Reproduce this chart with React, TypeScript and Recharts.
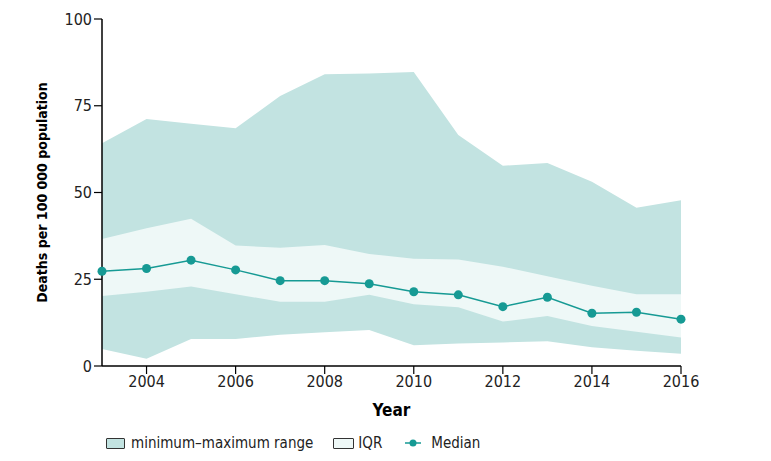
import { Area, ComposedChart, Line, XAxis, YAxis } from 'recharts';

const years = [2003, 2004, 2005, 2006, 2007, 2008, 2009, 2010, 2011, 2012, 2013, 2014, 2015, 2016];
const minimum = [4.9, 2.1, 7.8, 7.8, 9.0, 9.7, 10.4, 6.0, 6.5, 6.8, 7.1, 5.4, 4.4, 3.5];
const maximum = [64.2, 71.2, 69.8, 68.5, 77.8, 84.1, 84.3, 84.7, 66.6, 57.7, 58.5, 53.1, 45.6, 47.8];
const lowerQuartile = [20.2, 21.4, 22.9, 20.7, 18.5, 18.5, 20.5, 17.8, 16.9, 12.8, 14.4, 11.5, 9.9, 8.2];
const upperQuartile = [36.6, 39.7, 42.4, 34.7, 34.1, 34.9, 32.3, 30.9, 30.7, 28.6, 25.9, 23.1, 20.7, 20.7];
const median = [27.3, 28.1, 30.5, 27.7, 24.6, 24.6, 23.7, 21.4, 20.5, 17.1, 19.8, 15.2, 15.5, 13.5];

const xTicks = [2004, 2006, 2008, 2010, 2012, 2014, 2016];
const yTicks = [0, 25, 50, 75, 100];

const RANGE_FILL = '#c2e3e1';
const IQR_FILL = '#eef8f7';
const MEDIAN = '#169a94';
const FONT = "'DejaVu Sans Condensed', 'DejaVu Sans', sans-serif";

const data = years.map((year, i) => ({
  year,
  range: [minimum[i], maximum[i]],
  iqr: [lowerQuartile[i], upperQuartile[i]],
  median: median[i],
}));

const tickStyle = { fontFamily: FONT, fontSize: 16, fill: '#222' };

function LegendBox({ fill, width }: { fill: string; width: number }) {
  return (
    <span
      style={{
        display: 'inline-block',
        boxSizing: 'border-box',
        width,
        height: 11,
        background: fill,
        border: '1.5px solid #333',
        borderRadius: 1,
      }}
    />
  );
}

export default function App() {
  return (
    <div style={{ position: 'relative', width: 755, height: 445, fontFamily: FONT }}>
      <ComposedChart width={755} height={445} data={data} margin={{ top: 11, right: 82, bottom: 37, left: 34 }}>
        <XAxis
          dataKey="year"
          type="number"
          domain={[2003, 2016]}
          ticks={xTicks}
          tick={tickStyle}
          tickSize={8}
          height={50}
          stroke="#000"
          axisLine={{ stroke: '#000', strokeWidth: 1.5 }}
          tickLine={{ stroke: '#000', strokeWidth: 1.2 }}
          label={{ value: 'Year', position: 'insideBottom', offset: 0, style: { fontFamily: FONT, fontSize: 17, fontWeight: 'bold', fill: '#000' } }}
        />
        <YAxis
          type="number"
          domain={[0, 100]}
          ticks={yTicks}
          tick={tickStyle}
          tickSize={8}
          width={60}
          stroke="#000"
          axisLine={{ stroke: '#000', strokeWidth: 1.5 }}
          tickLine={{ stroke: '#000', strokeWidth: 1.2 }}
          label={{
            value: 'Deaths per 100 000 population',
            angle: -90,
            position: 'insideLeft',
            offset: 0,
            style: { textAnchor: 'middle', fontFamily: FONT, fontSize: 14, fontWeight: 'bold', fill: '#000' },
          }}
        />
        <Area dataKey="range" type="linear" stroke="none" fill={RANGE_FILL} fillOpacity={1} isAnimationActive={false} />
        <Area dataKey="iqr" type="linear" stroke="none" fill={IQR_FILL} fillOpacity={1} isAnimationActive={false} />
        <Line
          dataKey="median"
          type="linear"
          stroke={MEDIAN}
          strokeWidth={1.5}
          dot={{ r: 4.5, fill: MEDIAN, stroke: MEDIAN, strokeWidth: 0 }}
          isAnimationActive={false}
        />
      </ComposedChart>
      <div
        style={{
          position: 'absolute',
          left: 98,
          top: 425,
          height: 20,
          fontSize: 15,
          color: '#222',
          display: 'flex',
          alignItems: 'center',
          whiteSpace: 'nowrap',
        }}
      >
        <LegendBox fill={RANGE_FILL} width={19} />
        <span style={{ marginLeft: 6, marginRight: 20 }}>minimum–maximum range</span>
        <LegendBox fill={IQR_FILL} width={21} />
        <span style={{ marginLeft: 4, marginRight: 23 }}>IQR</span>
        <svg width={16} height={10}>
          <line x1={0} y1={5} x2={16} y2={5} stroke={MEDIAN} strokeWidth={1.5} />
          <circle cx={8} cy={5} r={3.5} fill={MEDIAN} />
        </svg>
        <span style={{ marginLeft: 10 }}>Median</span>
      </div>
    </div>
  );
}
